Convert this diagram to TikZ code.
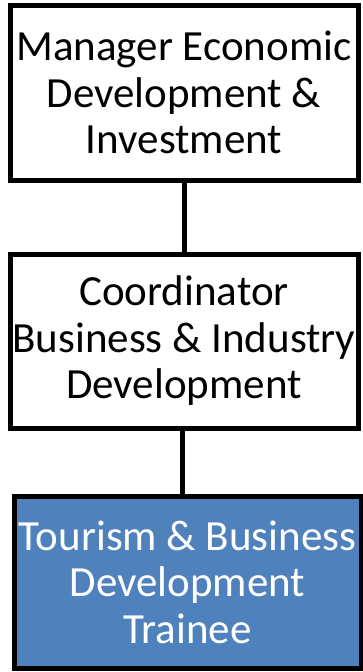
\documentclass[tikz,border=0pt]{standalone}
\usepackage{fontspec}
\setmainfont{Carlito}
\usepackage{tikz}
\definecolor{traineeblue}{RGB}{79,129,189}

\begin{document}
\begin{tikzpicture}[x=1pt,y=1pt,
        post/.style={draw=black,line width=5pt,rectangle,inner sep=0pt,align=center,
                font=\fontsize{43}{46.5}\selectfont},
        link/.style={line width=5pt}]
                \useasboundingbox (0,0) rectangle (363,-672);
                \node[post,minimum width=348pt,minimum height=175pt] (manager) at (184,-92.5)
                        {Manager Economic\\Development \&\\Investment};
                \node[post,minimum width=348pt,minimum height=174pt] (coordinator) at (184,-341)
                        {Coordinator\\Business \& Industry\\Development};
                \node[post,fill=traineeblue,text=white,minimum width=347pt,minimum height=172pt] (trainee) at (187.5,-582)
                        {Tourism \& Business\\Development\\Trainee};

                \draw[link] (manager.south) -- (coordinator.north);
                \draw[link] ([xshift=-2pt]coordinator.south) -- ([xshift=-2pt]coordinator.south |- trainee.north);
            \end{tikzpicture}
\end{document}
